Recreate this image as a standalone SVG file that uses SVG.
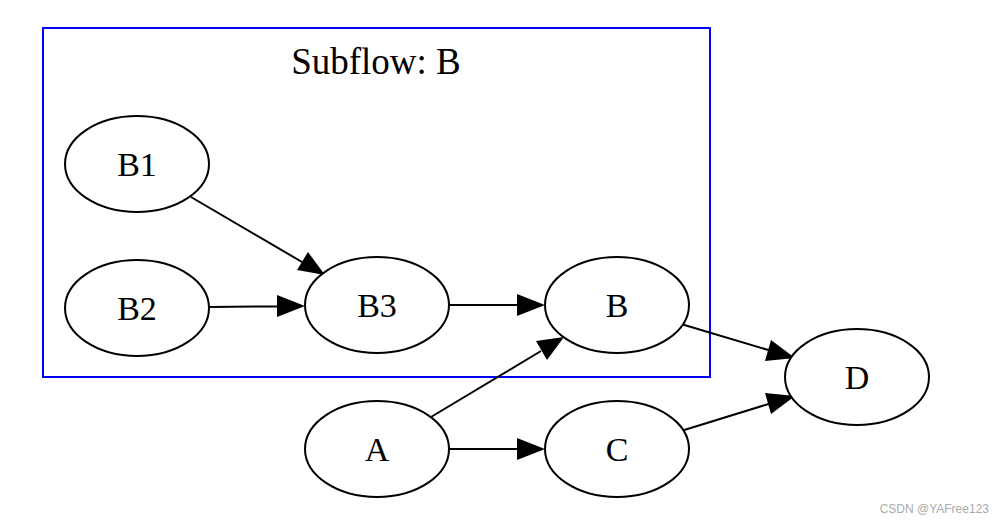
<svg xmlns="http://www.w3.org/2000/svg" width="1004" height="524" viewBox="0 0 1004 524">
<style>
.n ellipse{fill:#fff;stroke:#000;stroke-width:2}
.n text,.t{font-family:"Liberation Serif","Times New Roman",serif;font-size:34px;text-anchor:middle;fill:#000}
.t{font-size:37px}
.e line{stroke:#000;stroke-width:2}
.e path{fill:#000}
.w{font-family:"Liberation Sans",Arial,sans-serif;font-size:12px;fill:#aaa;text-anchor:end}
</style>
<rect width="1004" height="524" fill="#fff"/>
<g id="cluster_B">
<rect x="43" y="28" width="667" height="349" fill="none" stroke="#0000ff" stroke-width="2"/>
<text class="t" x="376" y="74">Subflow: B</text>
</g>
<g id="edges" class="e">
<line x1="191" y1="197" x2="302" y2="262"/>
<path d="M325,275 L297,270 L308,252 Z"/>
<line x1="209" y1="307" x2="280" y2="306.4"/>
<path d="M305,306 L277,317 L277,295 Z"/>
<line x1="449" y1="305" x2="520" y2="305"/>
<path d="M545,305 L517,316 L517,294 Z"/>
<line x1="431" y1="417" x2="541" y2="351"/>
<path d="M564,337 L547,360 L536,341 Z"/>
<line x1="449" y1="449" x2="520" y2="449"/>
<path d="M545,449 L517,460 L517,438 Z"/>
<line x1="681" y1="324" x2="770" y2="350.5"/>
<path d="M795,358 L765,361 L771,340 Z"/>
<line x1="681" y1="431" x2="770" y2="403.5"/>
<path d="M795,396 L771,414 L765,393 Z"/>
</g>
<g id="B1" class="n"><ellipse cx="137" cy="164" rx="72" ry="48"/><text x="137" y="176">B1</text></g>
<g id="B2" class="n"><ellipse cx="137" cy="308" rx="72" ry="48"/><text x="137" y="320">B2</text></g>
<g id="B3" class="n"><ellipse cx="377" cy="305" rx="72" ry="48"/><text x="377" y="317">B3</text></g>
<g id="B" class="n"><ellipse cx="617" cy="305" rx="72" ry="48"/><text x="617" y="317">B</text></g>
<g id="A" class="n"><ellipse cx="377" cy="449" rx="72" ry="48"/><text x="377" y="461">A</text></g>
<g id="C" class="n"><ellipse cx="617" cy="449" rx="72" ry="48"/><text x="617" y="461">C</text></g>
<g id="D" class="n"><ellipse cx="857" cy="377" rx="72" ry="48"/><text x="857" y="389">D</text></g>
<text class="w" x="989" y="513">CSDN @YAFree123</text>
</svg>
